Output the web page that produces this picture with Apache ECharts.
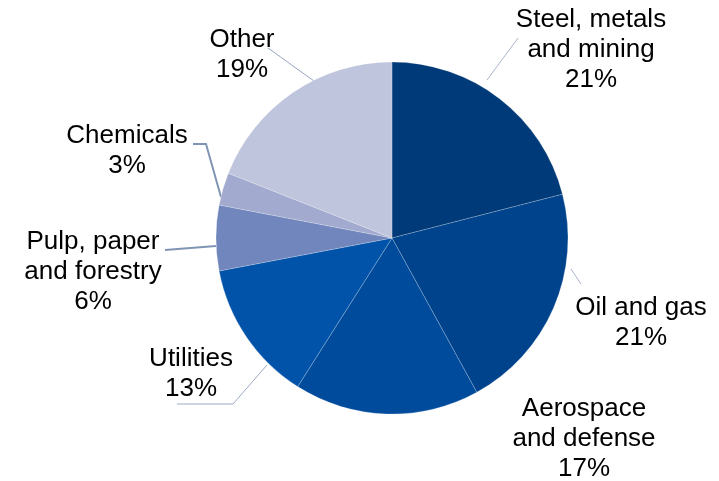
<!DOCTYPE html>
<html>
<head>
<meta charset="utf-8">
<script src="https://cdn.jsdelivr.net/npm/echarts@6/dist/echarts.min.js"></script>
<style>
  html, body { margin: 0; padding: 0; background: #fff; }
  #chart { width: 719px; height: 481px; }
</style>
</head>
<body>
<div id="chart"></div>
<script>
// Industry breakdown, clockwise from 12 o'clock
const categories = [
  'Steel, metals\nand mining',
  'Oil and gas',
  'Aerospace\nand defense',
  'Utilities',
  'Pulp, paper\nand forestry',
  'Chemicals',
  'Other'
];
const shares = [21, 21, 17, 13, 6, 3, 19];
const sliceColors = ['#003A78', '#00438D', '#004B9C', '#0053A8', '#7086BC', '#A2ABCF', '#BFC5DC'];

// Label placement: text centre and leader polyline (pixels)
const labelSpots = [
  { x: 591, y: 50,  line: [[487, 80], [518, 38]] },
  { x: 641, y: 323, line: [[571, 269], [581, 284]] },
  { x: 584, y: 439, line: null },
  { x: 191, y: 374, line: [[267, 365], [233, 404], [177, 404]] },
  { x: 93,  y: 272, line: [[216, 246], [165, 250]] },
  { x: 127, y: 151, line: [[221, 197], [206, 144], [193, 144]] },
  { x: 242, y: 55,  line: [[314, 81], [268, 48]] }
];
const leaderStyles = [
  { color: '#A9B5CA', width: 1 },
  { color: '#A9B5CA', width: 1 },
  null,
  { color: '#9DABC2', width: 1 },
  { color: '#8095B3', width: 2 },
  { color: '#8095B3', width: 2 },
  { color: '#97A6BF', width: 1 }
];

const chart = echarts.init(document.getElementById('chart'), null, { renderer: 'canvas' });

const pieData = categories.map((name, i) => ({
  name: name,
  value: shares[i],
  itemStyle: { color: sliceColors[i] },
  labelLine: leaderStyles[i]
    ? { show: true, lineStyle: { color: leaderStyles[i].color, width: leaderStyles[i].width } }
    : { show: false }
}));

chart.setOption({
  animation: false,
  backgroundColor: '#ffffff',
  series: [{
    type: 'pie',
    center: [392, 238],
    radius: 176,
    startAngle: 90,
    clockwise: true,
    avoidLabelOverlap: false,
    data: pieData,
    itemStyle: { borderColor: 'rgba(255,255,255,0.35)', borderWidth: 0.6 },
    label: {
      show: true,
      position: 'outside',
      formatter: '{b}\n{c}%',
      fontFamily: 'Liberation Sans, Arial, sans-serif',
      fontSize: 26,
      lineHeight: 30,
      color: '#000',
      align: 'center'
    },
    labelLine: { show: true, smooth: false },
    labelLayout: function (params) {
      const spot = labelSpots[params.dataIndex];
      const out = { x: spot.x, y: spot.y, align: 'center', verticalAlign: 'middle' };
      if (spot.line) {
        const pts = spot.line.slice();
        while (pts.length < 3) pts.push(pts[pts.length - 1]);
        out.labelLinePoints = pts;
      }
      return out;
    }
  }]
});
</script>
</body>
</html>
